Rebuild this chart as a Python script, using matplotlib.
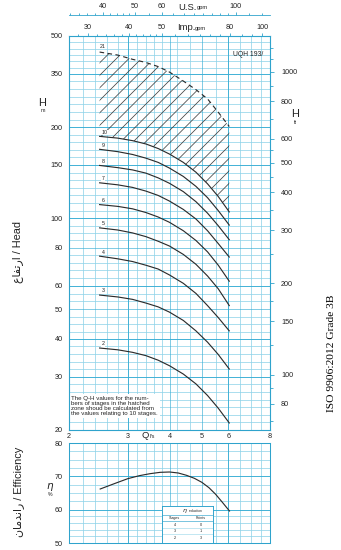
import matplotlib
matplotlib.use("Agg")
import matplotlib.pyplot as plt
import numpy as np
from matplotlib.ticker import FixedLocator, FixedFormatter, NullLocator, NullFormatter

plt.rcParams['font.family'] = ['Liberation Sans', 'DejaVu Sans']
plt.rcParams['hatch.linewidth'] = 0.7

DPI = 75
W, H = 342, 550

# flow (l/s) where the Q-H curves were read
q = [2.47, 2.8, 3.1, 3.4, 3.7, 4.0, 4.4, 4.8, 5.2, 5.6, 6.04]
h2 = [37.3, 36.8, 36.1, 35.2, 34.0, 32.6, 30.6, 28.4, 26.0, 23.6, 21.1]
h3 = [55.8, 55.0, 54.0, 52.5, 51.0, 49.0, 46.0, 42.5, 39.0, 35.5, 31.8]
h4 = [75.0, 73.5, 72.0, 70.0, 68.0, 65.0, 61.0, 56.5, 51.5, 47.0, 42.5]
h5 = [93.0, 91.5, 89.5, 87.0, 84.0, 81.0, 76.0, 70.5, 64.5, 58.5, 51.5]
h6 = [111.0, 109.5, 107.5, 104.5, 101.0, 97.0, 91.0, 84.5, 77.5, 70.0, 62.0]
h7 = [131.0, 129.0, 126.5, 123.0, 119.0, 114.0, 107.0, 99.5, 91.0, 82.5, 74.5]
h8 = [149.5, 147.0, 144.5, 141.0, 136.0, 130.5, 122.5, 113.5, 104.0, 94.5, 85.0]
h9 = [169.0, 166.0, 162.5, 158.0, 153.0, 146.5, 137.5, 127.5, 117.0, 106.0, 95.0]
h10 = [186.5, 184.0, 180.5, 176.0, 170.0, 163.0, 153.0, 142.0, 130.0, 118.0, 105.0]
# upper limit of the hatched zone (21 stages)
h21 = [354, 346, 335, 327, 317, 304, 284, 266, 248, 224, 201]
stage_labels = ['2', '3', '4', '5', '6', '7', '8', '9', '10']

# efficiency curve
eff_q = [2.48, 2.75, 3.0, 3.25, 3.5, 3.75, 4.0, 4.25, 4.5, 4.75, 5.0, 5.25, 5.5, 5.75, 6.05]
eff = [66.2, 67.9, 69.3, 70.2, 70.8, 71.2, 71.3, 71.0, 70.3, 69.4, 68.2, 66.6, 64.6, 62.3, 59.6]

# eta reduction table
red_stages = ['4', '3', '2']
red_points = ['0', '1', '3']

# axis ticks
q_ticks = [2, 3, 4, 5, 6, 8]
h_ticks = [20, 30, 40, 50, 60, 80, 100, 150, 200, 300, 400]
h_tick_labels = ['20', '30', '40', '50', '60', '80', '100', '150', '200', '350', '500']
ft_ticks = [80, 100, 150, 200, 300, 400, 500, 600, 800, 1000]
ft_minor = [70, 90, 125, 175, 250, 350, 450, 550, 700, 900, 1100, 1200]
imp_ticks = [30, 40, 50, 80, 100]
imp_minor = [28, 32, 34, 36, 38, 42, 44, 46, 48, 55, 60, 65, 70, 75, 87, 93]
us_ticks = [40, 50, 60, 100]
us_minor = [32, 34, 36, 38, 42, 44, 46, 48, 55, 65, 70, 75, 80, 85, 90, 95, 110, 120]
eff_ticks = [50, 60, 70, 80]

LS_PER_IMP = 0.07577
LS_PER_US = 0.06309
M_PER_FT = 0.3048

GRID_LIGHT = '#8ed2e8'
GRID_DARK = '#3aaed5'
SPINE = '#2fa3cc'
CURVE = '#2b2b2b'
TXT = '#222222'


def fx(px):
    return px / W


def fy(py):
    return 1 - py / H


def style_spines(a):
    for s in a.spines.values():
        s.set_color(SPINE)
        s.set_linewidth(1.0)


def fixed_ticks(axis, major, minor=None, labels=None):
    axis.set_major_locator(FixedLocator(major))
    axis.set_major_formatter(FixedFormatter(labels or [str(t) for t in major]))
    axis.set_minor_locator(FixedLocator(minor) if minor else NullLocator())
    axis.set_minor_formatter(NullFormatter())


def vgrid(a):
    for v in [2.2, 2.4, 2.6, 2.8, 3.2, 3.4, 3.6, 3.8, 4.2, 4.6, 5.5, 6.5, 7, 7.5]:
        a.axvline(v, color=GRID_LIGHT, lw=0.7, zorder=0)
    for v in [4, 5]:
        a.axvline(v, color=GRID_DARK, lw=0.6, zorder=0.5)
    for v in [3, 6]:
        a.axvline(v, color=GRID_DARK, lw=0.9, zorder=0.5)


fig = plt.figure(figsize=(W / DPI, H / DPI), dpi=DPI)

# ---------------- head chart ----------------
ax = fig.add_axes([fx(69), fy(430), fx(201), 394 / H])
ax.set_xscale('log')
ax.set_yscale('log')
ax.set_xlim(2, 8)
ax.set_ylim(20, 400)
style_spines(ax)

vgrid(ax)
bounds = [20, 30, 40, 50, 60, 80, 100, 150, 200, 300, 400]
steps = [7, 5, 4, 3, 5, 4, 7, 5, 7, 6]
for lo, hi, n in zip(bounds[:-1], bounds[1:], steps):
    for v in np.geomspace(lo, hi, n + 1)[1:-1]:
        ax.axhline(v, color=GRID_LIGHT, lw=0.7, zorder=0)
for v in [50, 80]:
    ax.axhline(v, color=GRID_DARK, lw=0.6, zorder=0.5)
for v in [30, 40, 60, 100, 150, 200, 300]:
    ax.axhline(v, color=GRID_DARK, lw=0.9, zorder=0.5)

ax.fill_between(q, h10, h21, facecolor='none', edgecolor='#3a3a3a',
                hatch='//', linewidth=0, zorder=1)
ax.plot(q, h21, color='#2b2b2b', lw=1.1, ls=(0, (4, 3)), zorder=2)
ax.annotate('21', (q[0], h21[0]), xytext=(0, 3), textcoords='offset points',
            fontsize=5, color=TXT, ha='left', va='bottom')

for lab, hh in zip(stage_labels, [h2, h3, h4, h5, h6, h7, h8, h9, h10]):
    ax.plot(q, hh, color=CURVE, lw=1.1, zorder=3)
    ax.annotate(lab, (q[0], hh[0]), xytext=(2, 1.5), textcoords='offset points',
                fontsize=5, color=TXT, ha='left', va='bottom',
                bbox=dict(fc='white', ec='none', pad=0.2), zorder=4)

fixed_ticks(ax.xaxis, q_ticks)
fixed_ticks(ax.yaxis, h_ticks, labels=h_tick_labels)
ax.tick_params(axis='both', which='both', length=0, labelsize=7, colors=TXT)
ax.tick_params(axis='y', pad=6)
ax.tick_params(axis='x', pad=2.5)

ax.text(0.012, 0.035,
        'The Q-H values for the num-\nbers of stages in the hatched\n'
        'zone shoud be calculated from\nthe values relating to 10 stages.',
        transform=ax.transAxes, fontsize=5.9, color=TXT, linespacing=1.05,
        ha='left', va='bottom', zorder=5,
        bbox=dict(fc='white', ec='none', pad=1.5))

# feet scale on the right
ax_ft = ax.twinx()
ax_ft.set_yscale('log')
ax_ft.set_ylim(20 / M_PER_FT, 400 / M_PER_FT)
fixed_ticks(ax_ft.yaxis, ft_ticks, ft_minor)
ax_ft.tick_params(axis='y', which='major', direction='out', length=3.5,
                  width=0.8, color=SPINE, labelsize=7, labelcolor=TXT, pad=7)
ax_ft.tick_params(axis='y', which='minor', direction='out', length=2.5,
                  width=0.8, color=SPINE)
style_spines(ax_ft)

# Imp. gpm on the top spine
ax_imp = ax.twiny()
ax_imp.set_xscale('log')
ax_imp.set_xlim(2 / LS_PER_IMP, 8 / LS_PER_IMP)
fixed_ticks(ax_imp.xaxis, imp_ticks, imp_minor)
ax_imp.tick_params(axis='x', which='major', direction='out', length=3,
                   width=0.8, color=SPINE, labelsize=7, labelcolor=TXT, pad=1.5)
ax_imp.tick_params(axis='x', which='minor', direction='out', length=2,
                   width=0.8, color=SPINE)
style_spines(ax_imp)

# U.S. gpm on a detached line above
ax_us = ax.twiny()
ax_us.set_xscale('log')
ax_us.set_xlim(2 / LS_PER_US, 8 / LS_PER_US)
ax_us.spines['top'].set_position(('outward', 21 * 72 / DPI))
for s in ['left', 'right', 'bottom']:
    ax_us.spines[s].set_visible(False)
ax_us.spines['top'].set_color(SPINE)
fixed_ticks(ax_us.xaxis, us_ticks, us_minor)
ax_us.tick_params(axis='x', which='major', direction='out', length=3,
                  width=0.8, color=SPINE, labelsize=7, labelcolor=TXT, pad=1.5)
ax_us.tick_params(axis='x', which='minor', direction='out', length=2,
                  width=0.8, color=SPINE)

# ---------------- efficiency chart ----------------
ax2 = fig.add_axes([fx(69), fy(543), fx(201), 100 / H])
ax2.set_xscale('log')
ax2.set_xlim(2, 8)
ax2.set_ylim(50, 80)
style_spines(ax2)
vgrid(ax2)
for v in [52, 54, 56, 58, 62.5, 65, 67.5, 72.5, 75, 77.5]:
    ax2.axhline(v, color=GRID_LIGHT, lw=0.7, zorder=0)
for v in [60, 70]:
    ax2.axhline(v, color=GRID_DARK, lw=0.9, zorder=0.5)
ax2.plot(eff_q, eff, color=CURVE, lw=1.1, zorder=3)
ax2.xaxis.set_major_locator(NullLocator())
ax2.xaxis.set_minor_locator(NullLocator())
fixed_ticks(ax2.yaxis, eff_ticks)
ax2.tick_params(axis='y', length=0, labelsize=7, colors=TXT, pad=6)

# eta reduction table
tb = fig.add_axes([fx(162), fy(543), fx(51), 37 / H])
tb.set_xlim(0, 1)
tb.set_ylim(0, 1)
tb.set_xticks([])
tb.set_yticks([])
tb.set_facecolor('white')
for s in tb.spines.values():
    s.set_color(SPINE)
    s.set_linewidth(0.9)
for yl in [0.757, 0.595]:
    tb.axhline(yl, color=SPINE, lw=0.6)
for yl in [0.405, 0.23]:
    tb.axhline(yl, color=GRID_LIGHT, lw=0.5)
tb.text(0.5, 0.878, r'$\eta$', fontsize=6, ha='right', va='center', color=TXT)
tb.text(0.52, 0.878, 'reduction', fontsize=3.3, ha='left', va='center', color=TXT)
tb.text(0.25, 0.676, 'Stages', fontsize=3.5, ha='center', va='center', color=TXT)
tb.text(0.76, 0.676, 'Points', fontsize=3.5, ha='center', va='center', color=TXT)
for yy, st, pt in zip([0.486, 0.311, 0.135], red_stages, red_points):
    tb.text(0.25, yy, st, fontsize=3.6, ha='center', va='center', color=TXT)
    tb.text(0.76, yy, pt, fontsize=3.6, ha='center', va='center', color=TXT)

# ---------------- labels ----------------
fig.text(fx(145), fy(436), 'Q', fontsize=9, color=TXT, ha='center', va='center')
fig.text(fx(150), fy(437), 'l/s', fontsize=5, color=TXT, ha='left', va='center')
fig.text(fx(177), fy(30), 'Imp.', fontsize=9, color=TXT, ha='left', va='baseline')
fig.text(fx(195), fy(30), 'gpm', fontsize=5.5, color=TXT, ha='left', va='baseline')
fig.text(fx(178), fy(9.5), 'U.S.', fontsize=9, color=TXT, ha='left', va='baseline')
fig.text(fx(197), fy(9.5), 'gpm', fontsize=5.5, color=TXT, ha='left', va='baseline')
fig.text(fx(42), fy(103), 'H', fontsize=10.5, color=TXT, ha='center', va='center')
fig.text(fx(43), fy(111), 'm', fontsize=5, color=TXT, ha='center', va='center')
fig.text(fx(295), fy(114), 'H', fontsize=10.5, color=TXT, ha='center', va='center')
fig.text(fx(295), fy(122), 'ft', fontsize=5, color=TXT, ha='center', va='center')
fig.text(fx(50), fy(487), r'$\eta$', fontsize=10, color=TXT, ha='center', va='center')
fig.text(fx(50), fy(495), '%', fontsize=5, color=TXT, ha='center', va='center')
fig.text(fx(233), fy(54), 'UQH 193/', fontsize=6.5, color=TXT, ha='left', va='center')

# Arabic words given in presentation forms, visual order
head_ar = '\ufec9\ufe8e\ufed4\ufe97\ufead\ufe8d'
eff_ar = '\ufee5\ufe8e\ufee3\ufeaa\ufee7\ufe8d\ufead'
fig.text(fx(18), fy(252), head_ar + ' / Head', rotation=90, fontsize=10.5,
         color=TXT, ha='center', va='center')
fig.text(fx(19), fy(492), eff_ar + ' / Efficiency', rotation=90, fontsize=10.5,
         color=TXT, ha='center', va='center')
fig.text(fx(332), fy(353), 'ISO 9906:2012 Grade 3B', rotation=90, fontsize=11,
         family='Liberation Serif', color='black', ha='center', va='center')

fig.savefig('out.png', dpi=DPI)
